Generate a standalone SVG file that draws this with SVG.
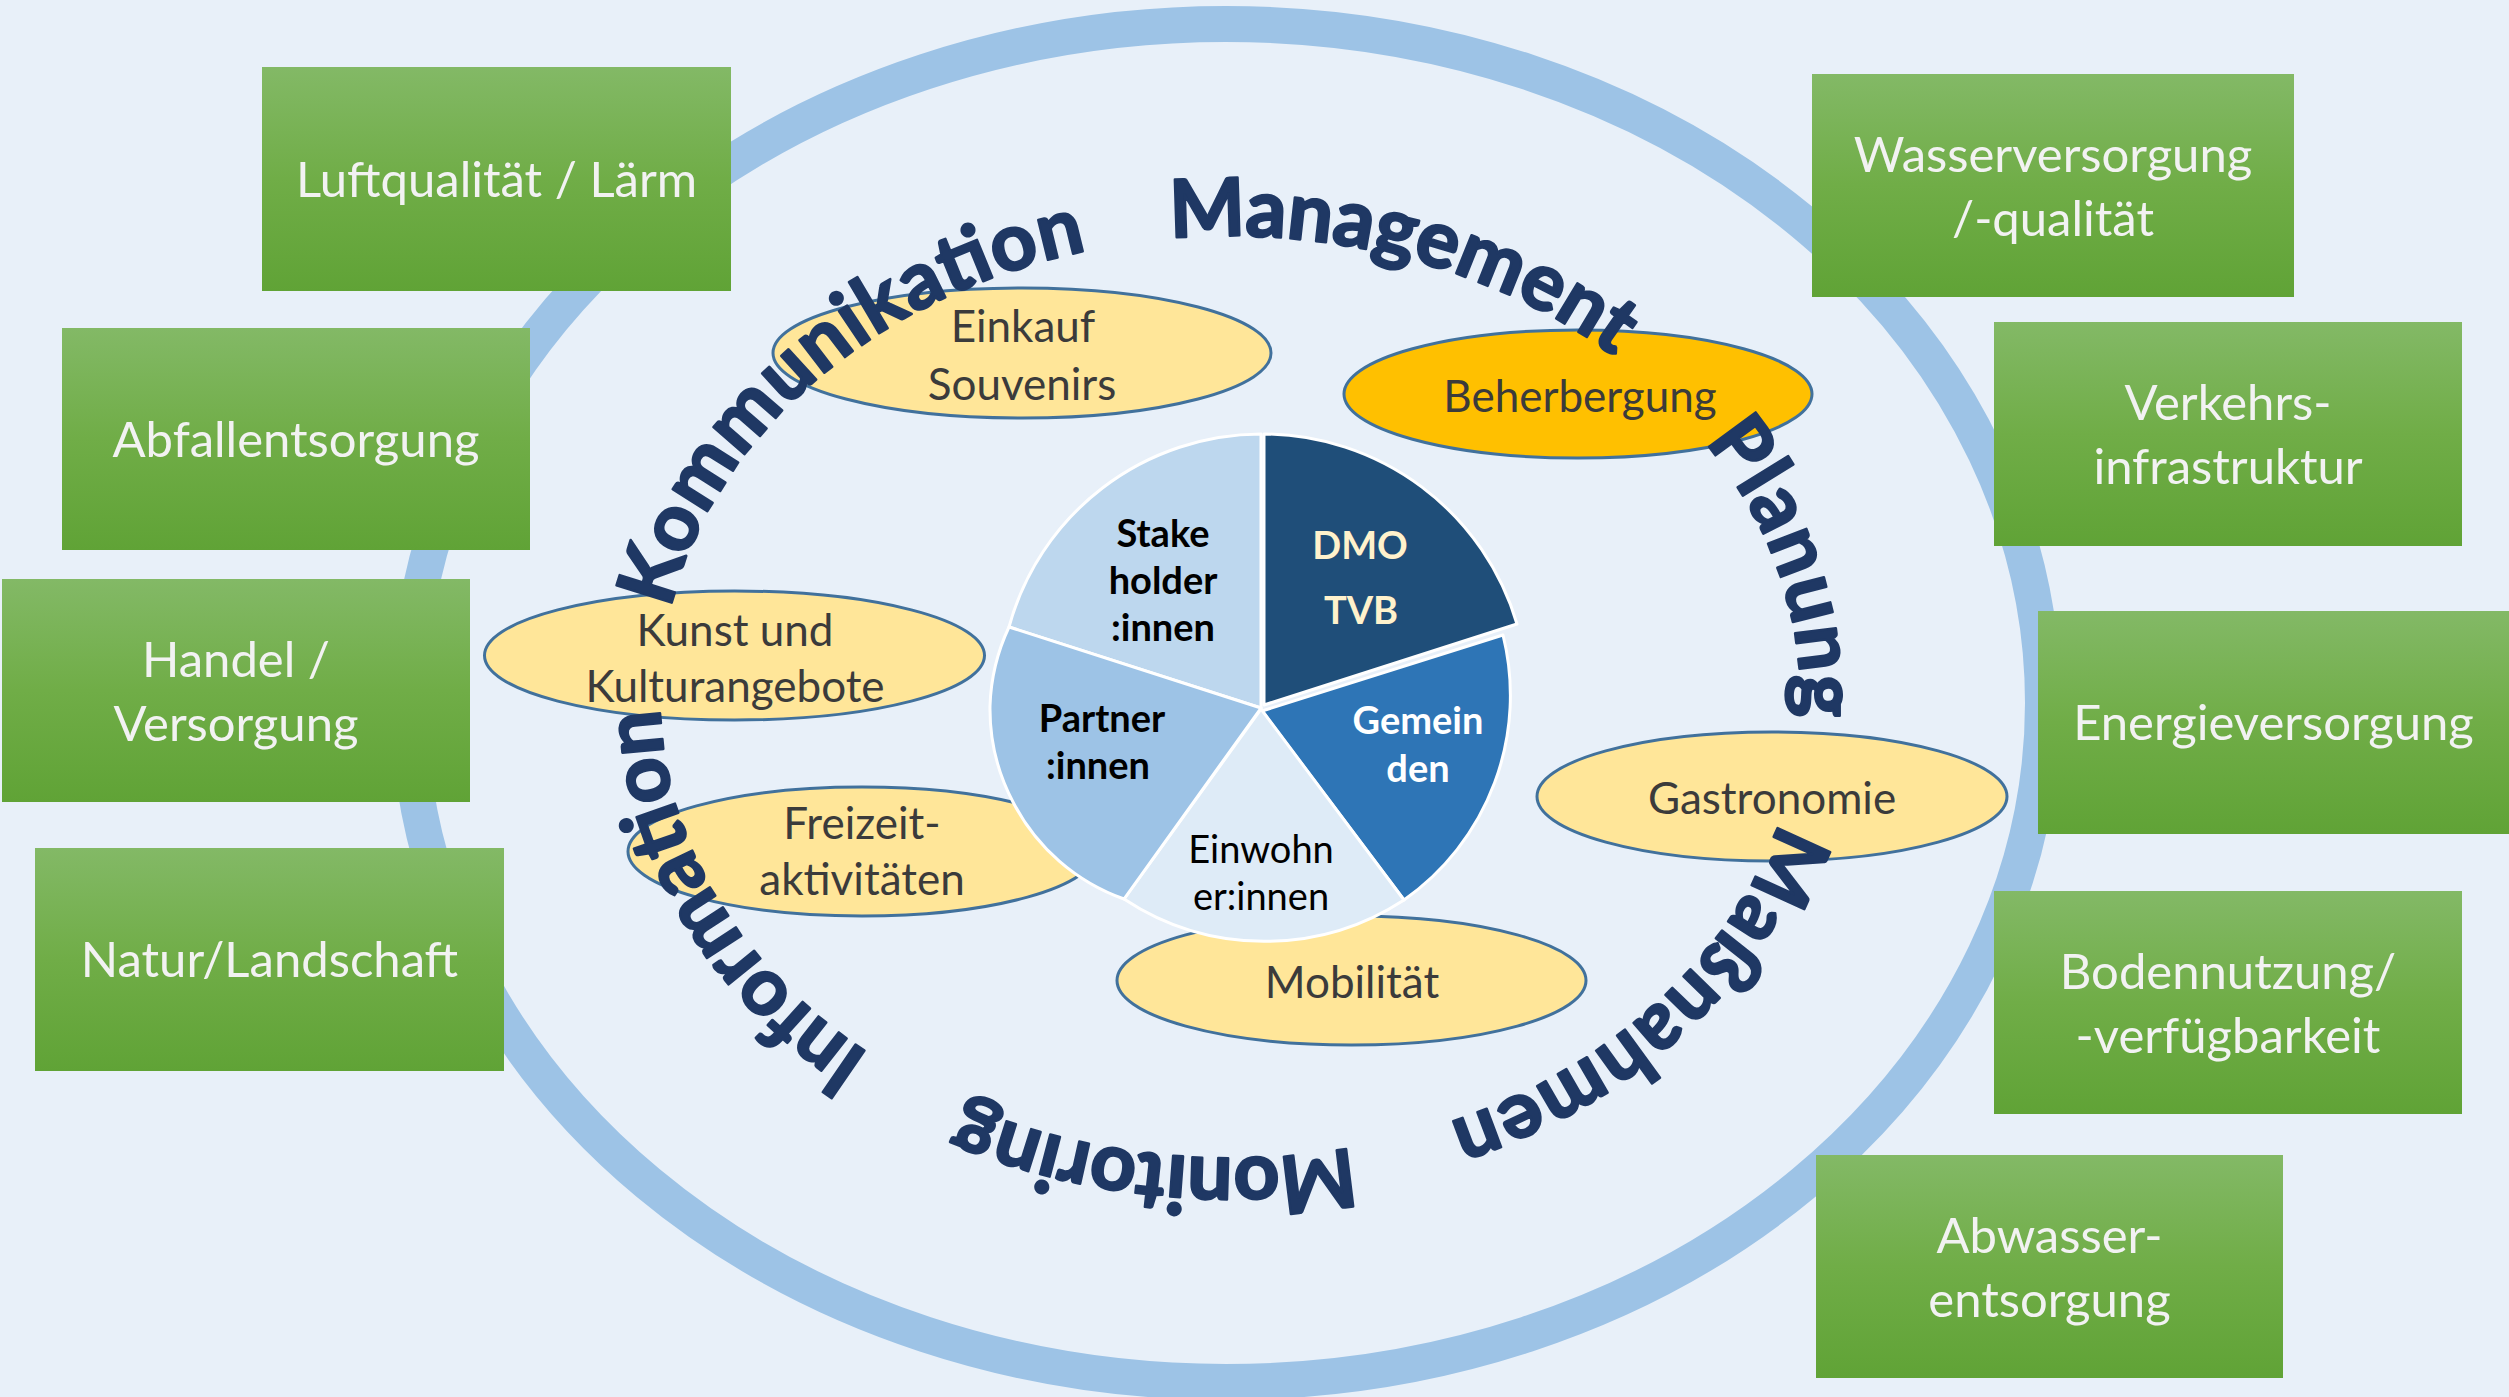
<svg xmlns="http://www.w3.org/2000/svg" width="2509" height="1397" viewBox="0 0 2509 1397">
  <defs>
    <linearGradient id="green" x1="0" y1="0" x2="0" y2="1">
      <stop offset="0" stop-color="#83b966"/>
      <stop offset="0.5" stop-color="#70ad47"/>
      <stop offset="1" stop-color="#60a336"/>
    </linearGradient>
    <!-- arcs of the lettering ellipse (centre 1230,697, radii 570/461), one per word -->
    <path id="arc-kom" d="M670.5,609 A570,461 0 0 1 1165.5,239"/>
    <path id="arc-man" d="M1170.4,238.5 A570,461 0 0 1 1669.2,403.2"/>
    <path id="arc-pla" d="M1704.8,441.9 A570,461 0 0 1 1790.5,781"/>
    <path id="arc-mas" d="M1778.7,821.7 A570,461 0 0 1 1373.7,1143.1"/>
    <path id="arc-mon" d="M1352.4,1147.3 A570,461 0 0 1 895.8,1070.4"/>
    <path id="arc-inf" d="M869.8,1054.2 A570,461 0 0 1 663.8,644"/>
  </defs>
  <style>
    .bg { fill: #e8f0f9; }
    .ring { fill: none; stroke: #9dc3e6; stroke-width: 36; }
    .box { fill: url(#green); }
    .boxtxt { font-family: Lato, "Liberation Sans", sans-serif; font-size: 49px; fill: #f2f2f2; text-anchor: middle; }
    .oval { fill: #ffe699; stroke: #41719c; stroke-width: 3; }
    .oval.hot { fill: #ffc000; }
    .ovtxt { font-family: Lato, "Liberation Sans", sans-serif; font-size: 44px; fill: #3b3b3b; text-anchor: middle; }
    .slice { stroke: #ffffff; stroke-width: 3; stroke-linejoin: round; }
    .pie { font-family: Lato, "Liberation Sans", sans-serif; font-size: 38px; text-anchor: middle; }
    .b { font-weight: bold; }
    .arch { font-family: Lato, "Liberation Sans", sans-serif; font-size: 80px; font-weight: bold; fill: #1f3864; stroke: #1f3864; stroke-width: 2.5; stroke-linejoin: round; }
  </style>

  <rect class="bg" x="0" y="0" width="2509" height="1397"/>

  <!-- outer ring -->
  <ellipse id="ring" class="ring" cx="1226" cy="703" rx="817" ry="679"/>

  <!-- framework conditions, left column -->
  <g id="box-luft">
    <rect class="box" x="262" y="67" width="469" height="224"/>
    <text class="boxtxt" x="496.5" y="197">Luftqualität / Lärm</text>
  </g>
  <g id="box-abfall">
    <rect class="box" x="62" y="328" width="468" height="222"/>
    <text class="boxtxt" x="296" y="457">Abfallentsorgung</text>
  </g>
  <g id="box-handel">
    <rect class="box" x="2" y="579" width="468" height="223"/>
    <text class="boxtxt" x="236" y="677">Handel /</text>
    <text class="boxtxt" x="236" y="741">Versorgung</text>
  </g>
  <g id="box-natur">
    <rect class="box" x="35" y="848" width="469" height="223"/>
    <text class="boxtxt" x="269.5" y="977">Natur/Landschaft</text>
  </g>

  <!-- framework conditions, right column -->
  <g id="box-wasser">
    <rect class="box" x="1812" y="74" width="482" height="223"/>
    <text class="boxtxt" x="2053" y="172">Wasserversorgung</text>
    <text class="boxtxt" x="2053" y="236">/-qualität</text>
  </g>
  <g id="box-verkehr">
    <rect class="box" x="1994" y="322" width="468" height="224"/>
    <text class="boxtxt" x="2228" y="420">Verkehrs-</text>
    <text class="boxtxt" x="2228" y="484">infrastruktur</text>
  </g>
  <g id="box-energie">
    <rect class="box" x="2038" y="611" width="471" height="223"/>
    <text class="boxtxt" x="2273.5" y="740">Energieversorgung</text>
  </g>
  <g id="box-boden">
    <rect class="box" x="1994" y="891" width="468" height="223"/>
    <text class="boxtxt" x="2228" y="989">Bodennutzung/</text>
    <text class="boxtxt" x="2228" y="1053">-verfügbarkeit</text>
  </g>
  <g id="box-abwasser">
    <rect class="box" x="1816" y="1155" width="467" height="223"/>
    <text class="boxtxt" x="2049.5" y="1253">Abwasser-</text>
    <text class="boxtxt" x="2049.5" y="1317">entsorgung</text>
  </g>

  <!-- tourism offers -->
  <g id="oval-einkauf">
    <ellipse class="oval" cx="1022" cy="353" rx="249" ry="65"/>
    <text class="ovtxt" x="1023" y="342">Einkauf</text>
    <text class="ovtxt" x="1022" y="400">Souvenirs</text>
  </g>
  <g id="oval-beherbergung">
    <ellipse class="oval hot" cx="1578" cy="394" rx="234" ry="64"/>
    <text class="ovtxt" x="1580" y="412">Beherbergung</text>
  </g>
  <g id="oval-kunst">
    <ellipse class="oval" cx="734.5" cy="655.5" rx="250" ry="64.5"/>
    <text class="ovtxt" x="735" y="646">Kunst und</text>
    <text class="ovtxt" x="735" y="702">Kulturangebote</text>
  </g>
  <g id="oval-gastronomie">
    <ellipse class="oval" cx="1772" cy="796.5" rx="235" ry="64.5"/>
    <text class="ovtxt" x="1772" y="814">Gastronomie</text>
  </g>
  <g id="oval-freizeit">
    <ellipse class="oval" cx="862" cy="851.5" rx="234" ry="64.5"/>
    <text class="ovtxt" x="862" y="839">Freizeit-</text>
    <text class="ovtxt" x="862" y="895">aktivitäten</text>
  </g>
  <g id="oval-mobilitaet">
    <ellipse class="oval" cx="1351.5" cy="980.5" rx="234.5" ry="64.5"/>
    <text class="ovtxt" x="1352" y="998">Mobilität</text>
  </g>

  <!-- actors pie -->
  <g id="pie-stakeholder">
    <path class="slice" fill="#bdd7ee" d="M1261,708 L1009,627 A262,262 0 0 1 1261,434 Z"/>
    <text class="pie b" fill="#000000" x="1163" y="547">Stake</text>
    <text class="pie b" fill="#000000" x="1163" y="594">holder</text>
    <text class="pie b" fill="#000000" x="1163" y="641">:innen</text>
  </g>
  <g id="pie-dmo">
    <path class="slice" fill="#1f4e79" d="M1264,705 L1264,434 A265,265 0 0 1 1517,624 Z"/>
    <text class="pie b" fill="#fff2cc" x="1360" y="559">DMO</text>
    <text class="pie b" fill="#fff2cc" x="1361" y="624">TVB</text>
  </g>
  <g id="pie-gemeinden">
    <path class="slice" fill="#2e75b6" d="M1262,711 L1503,635 A250,250 0 0 1 1404,900 Z"/>
    <text class="pie b" fill="#ffffff" x="1418" y="734">Gemein</text>
    <text class="pie b" fill="#ffffff" x="1418" y="782">den</text>
  </g>
  <g id="pie-einwohner">
    <path class="slice" fill="#deebf7" d="M1261,709 L1404,900 A255,255 0 0 1 1124,899 Z"/>
    <text class="pie" fill="#000000" x="1261" y="863">Einwohn</text>
    <text class="pie" fill="#000000" x="1261" y="910">er:innen</text>
  </g>
  <g id="pie-partner">
    <path class="slice" fill="#9dc3e6" d="M1261,708 L1124,899 A200,200 0 0 1 1013,802 A200,200 0 0 1 990,706 A200,200 0 0 1 1009,627 Z"/>
    <text class="pie b" fill="#000000" x="1102" y="732">Partner</text>
    <text class="pie b" fill="#000000" x="1098" y="779">:innen</text>
  </g>

  <!-- arched process words -->
  <g id="arch-words">
    <text class="arch"><textPath href="#arc-kom" textLength="579" lengthAdjust="spacing">Kommunikation</textPath></text>
    <text class="arch"><textPath href="#arc-man" textLength="469" lengthAdjust="spacing">Management</textPath></text>
    <text class="arch"><textPath href="#arc-pla" textLength="298" lengthAdjust="spacing">Planung</textPath></text>
    <text class="arch"><textPath href="#arc-mas" textLength="462" lengthAdjust="spacing">Maßnahmen</textPath></text>
    <text class="arch"><textPath href="#arc-mon" textLength="397" lengthAdjust="spacing">Monitoring</textPath></text>
    <text class="arch"><textPath href="#arc-inf" textLength="420" lengthAdjust="spacing">Information</textPath></text>
  </g>
</svg>
